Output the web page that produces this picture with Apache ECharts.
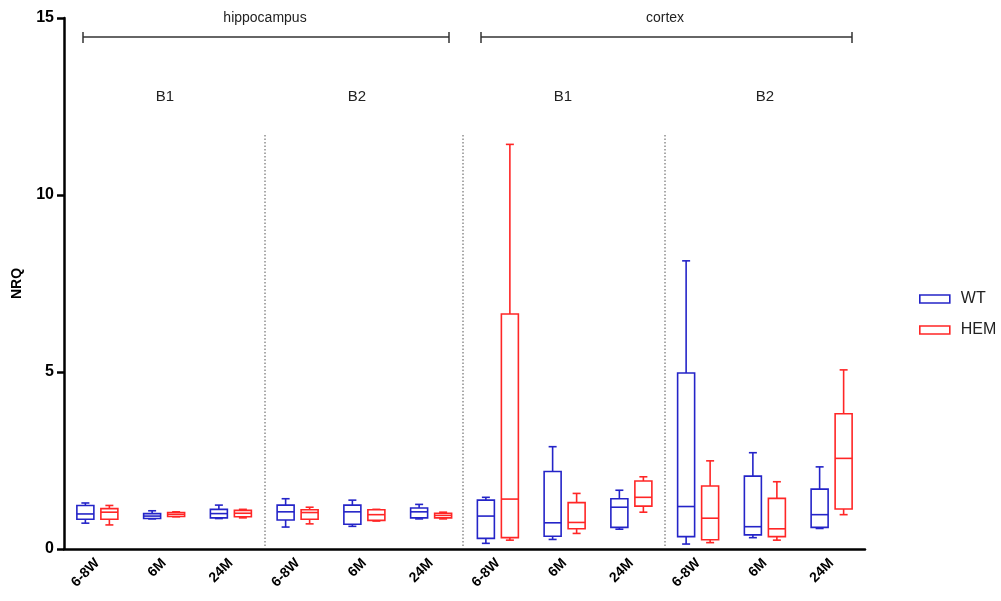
<!DOCTYPE html>
<html>
<head>
<meta charset="utf-8">
<script src="https://cdn.jsdelivr.net/npm/echarts@6/dist/echarts.min.js"></script>
<style>
  html, body { margin: 0; padding: 0; background: #fff; }
  #chart { width: 1001px; height: 601px; }
</style>
</head>
<body>
<div id="chart"></div>
<script>
// Age groups along the x axis: hippocampus B1, B2, cortex B1, B2
const categories = ['6-8W', '6M', '24M', '6-8W', '6M', '24M', '6-8W', '6M', '24M', '6-8W', '6M', '24M'];
const yTicks = [0, 5, 10, 15];

// Box statistics per group: [min, Q1, median, Q3, max]
const wtStats = [
  [0.73, 0.84, 0.99, 1.23, 1.30],
  [0.85, 0.86, 0.93, 1.00, 1.08],
  [0.86, 0.88, 1.00, 1.12, 1.24],
  [0.62, 0.82, 1.05, 1.24, 1.42],
  [0.64, 0.70, 1.05, 1.24, 1.38],
  [0.85, 0.88, 1.05, 1.16, 1.26],
  [0.16, 0.30, 0.93, 1.38, 1.46],
  [0.27, 0.36, 0.74, 2.19, 2.89],
  [0.56, 0.61, 1.18, 1.42, 1.66],
  [0.14, 0.35, 1.20, 4.97, 8.14],
  [0.32, 0.40, 0.63, 2.06, 2.72],
  [0.58, 0.61, 0.97, 1.69, 2.32]
];
const hemStats = [
  [0.68, 0.84, 1.04, 1.14, 1.23],
  [0.91, 0.92, 0.98, 1.03, 1.05],
  [0.88, 0.91, 1.01, 1.09, 1.12],
  [0.71, 0.84, 1.03, 1.11, 1.18],
  [0.79, 0.81, 0.97, 1.11, 1.12],
  [0.85, 0.88, 0.95, 1.01, 1.04],
  [0.25, 0.32, 1.41, 6.64, 11.43],
  [0.44, 0.57, 0.75, 1.31, 1.57],
  [1.04, 1.21, 1.46, 1.92, 2.04],
  [0.18, 0.26, 0.87, 1.78, 2.49],
  [0.25, 0.35, 0.57, 1.43, 1.90],
  [0.97, 1.13, 2.56, 3.82, 5.06]
];

const seriesNames = ['WT', 'HEM'];
const colors = { WT: '#2424c8', HEM: '#ff2626' };

const FONT = 'Liberation Sans, Arial, sans-serif';

function toRows(stats) {
  return stats.map((s, i) => [i].concat(s));
}

// Draws one box-and-whisker glyph, shifted sideways from the category centre
function boxRenderer(offset, color) {
  return function (params, api) {
    const c = api.value(0);
    const x = api.coord([c, 0])[0] + offset;
    const y = k => api.coord([c, api.value(k)])[1];
    const yMin = y(1), yQ1 = y(2), yMed = y(3), yQ3 = y(4), yMax = y(5);
    const hw = 8.5, cw = 4;
    const st = { stroke: color, lineWidth: 1.6, fill: null };
    return {
      type: 'group',
      children: [
        { type: 'line', shape: { x1: x, y1: yQ3, x2: x, y2: yMax }, style: st },
        { type: 'line', shape: { x1: x - cw, y1: yMax, x2: x + cw, y2: yMax }, style: st },
        { type: 'line', shape: { x1: x, y1: yQ1, x2: x, y2: yMin }, style: st },
        { type: 'line', shape: { x1: x - cw, y1: yMin, x2: x + cw, y2: yMin }, style: st },
        { type: 'rect', shape: { x: x - hw, y: yQ3, width: hw * 2, height: yQ1 - yQ3 }, style: { stroke: color, lineWidth: 1.6, fill: '#fff' } },
        { type: 'line', shape: { x1: x - hw, y1: yMed, x2: x + hw, y2: yMed }, style: st }
      ]
    };
  };
}

const gridLeft = 64, gridTop = 18, gridRight = 136, gridBottom = 52;

// Region brackets, sub-region labels and dotted separators
const lineStyle = { stroke: '#333', lineWidth: 1.5 };
const graphics = [
  { type: 'line', shape: { x1: 83, y1: 37, x2: 449, y2: 37 }, style: lineStyle },
  { type: 'line', shape: { x1: 83, y1: 32, x2: 83, y2: 43 }, style: lineStyle },
  { type: 'line', shape: { x1: 449, y1: 32, x2: 449, y2: 43 }, style: lineStyle },
  { type: 'line', shape: { x1: 481, y1: 37, x2: 852, y2: 37 }, style: lineStyle },
  { type: 'line', shape: { x1: 481, y1: 32, x2: 481, y2: 43 }, style: lineStyle },
  { type: 'line', shape: { x1: 852, y1: 32, x2: 852, y2: 43 }, style: lineStyle },
  { type: 'text', x: 265, y: 18, style: { text: 'hippocampus', font: '14px ' + FONT, fill: '#222', textAlign: 'center', textVerticalAlign: 'middle' } },
  { type: 'text', x: 665, y: 18, style: { text: 'cortex', font: '14px ' + FONT, fill: '#222', textAlign: 'center', textVerticalAlign: 'middle' } },
  { type: 'text', x: 165, y: 97, style: { text: 'B1', font: '15px ' + FONT, fill: '#222', textAlign: 'center', textVerticalAlign: 'middle' } },
  { type: 'text', x: 357, y: 97, style: { text: 'B2', font: '15px ' + FONT, fill: '#222', textAlign: 'center', textVerticalAlign: 'middle' } },
  { type: 'text', x: 563, y: 97, style: { text: 'B1', font: '15px ' + FONT, fill: '#222', textAlign: 'center', textVerticalAlign: 'middle' } },
  { type: 'text', x: 765, y: 97, style: { text: 'B2', font: '15px ' + FONT, fill: '#222', textAlign: 'center', textVerticalAlign: 'middle' } }
];
[265, 463, 665].forEach(x => {
  graphics.push({ type: 'line', shape: { x1: x, y1: 135, x2: x, y2: 548 }, style: { stroke: '#555', lineWidth: 1, lineDash: [1.5, 2] } });
});

const chart = echarts.init(document.getElementById('chart'), null, { renderer: 'canvas' });
chart.setOption({
  animation: false,
  backgroundColor: '#fff',
  grid: { left: gridLeft, right: gridRight, top: gridTop, bottom: gridBottom, containLabel: false },
  legend: {
    orient: 'vertical',
    left: 914,
    top: 286,
    itemWidth: 30,
    itemHeight: 8,
    itemGap: 15,
    icon: 'rect',
    textStyle: { fontFamily: FONT, fontSize: 16, color: '#222', padding: [0, 0, 0, 6] },
    data: seriesNames.map(n => ({ name: n, itemStyle: { color: '#fff', borderColor: colors[n], borderWidth: 1.6 } }))
  },
  xAxis: {
    type: 'category',
    data: categories,
    axisLine: { lineStyle: { color: '#000', width: 2.5 } },
    axisTick: { alignWithLabel: true, length: 7, lineStyle: { color: '#000', width: 2.5 } },
    axisLabel: { rotate: 45, interval: 0, margin: 12, fontFamily: FONT, fontWeight: 'bold', fontSize: 14, color: '#000' },
    splitLine: { show: false }
  },
  yAxis: {
    type: 'value',
    min: yTicks[0],
    max: yTicks[yTicks.length - 1],
    interval: 5,
    name: 'NRQ',
    nameLocation: 'middle',
    nameGap: 40,
    nameTextStyle: { fontFamily: FONT, fontWeight: 'bold', fontSize: 14, color: '#000' },
    axisLine: { show: true, lineStyle: { color: '#000', width: 2.5 } },
    axisTick: { show: true, length: 7, lineStyle: { color: '#000', width: 2.5 } },
    axisLabel: { margin: 10, fontFamily: FONT, fontWeight: 'bold', fontSize: 16, color: '#000' },
    splitLine: { show: false }
  },
  graphic: graphics,
  series: [
    {
      name: 'WT',
      type: 'custom',
      renderItem: boxRenderer(-12, colors.WT),
      itemStyle: { color: colors.WT },
      encode: { x: 0, y: [1, 2, 3, 4, 5] },
      data: toRows(wtStats),
      z: 3
    },
    {
      name: 'HEM',
      type: 'custom',
      renderItem: boxRenderer(12, colors.HEM),
      itemStyle: { color: colors.HEM },
      encode: { x: 0, y: [1, 2, 3, 4, 5] },
      data: toRows(hemStats),
      z: 3
    }
  ]
});
</script>
</body>
</html>
